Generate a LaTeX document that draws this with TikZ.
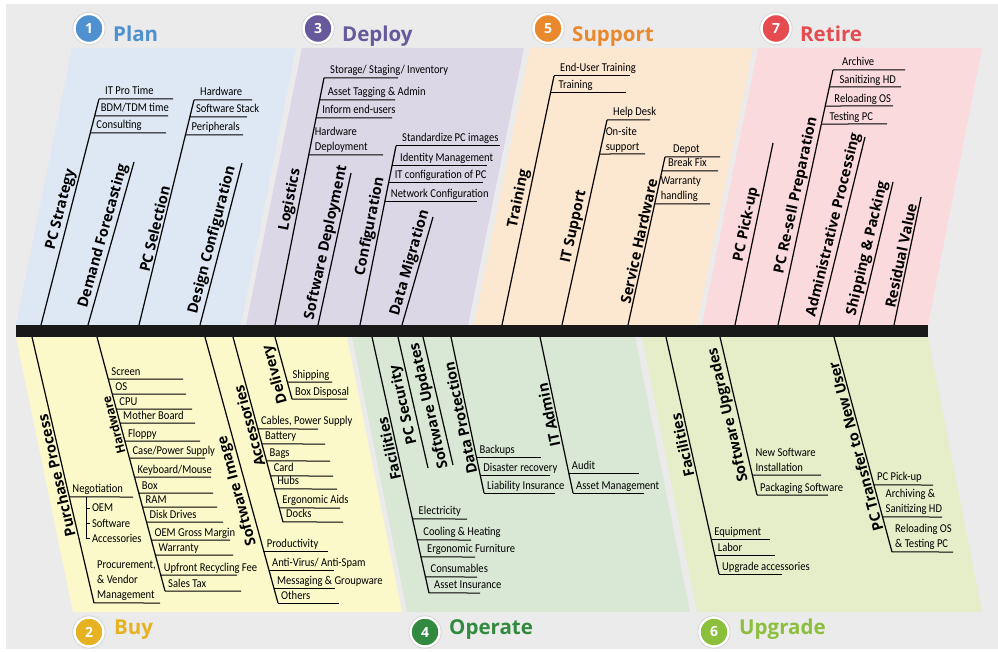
\documentclass[tikz,border=0pt]{standalone}
\usepackage{fontspec}
\setmainfont{Carlito}
\newfontfamily\twigfont[FakeStretch=0.88]{Carlito}
\newfontfamily\bonefont{Open Sans}
\usetikzlibrary{
	calc,
	positioning
}
\definecolor{framebg}{HTML}{EBEBEB}
\definecolor{planbg}{HTML}{DDE8F4}
\definecolor{plantx}{HTML}{4F91D0}
\definecolor{deploybg}{HTML}{DCD7E7}
\definecolor{deploytx}{HTML}{67599B}
\definecolor{supportbg}{HTML}{FCE7D0}
\definecolor{supporttx}{HTML}{E9882C}
\definecolor{retirebg}{HTML}{FADADD}
\definecolor{retiretx}{HTML}{E64B4F}
\definecolor{buybg}{HTML}{FBF8C9}
\definecolor{buytx}{HTML}{E7B221}
\definecolor{operatebg}{HTML}{D9E8D4}
\definecolor{operatetx}{HTML}{318A3F}
\definecolor{upgradebg}{HTML}{E6EEC9}
\definecolor{upgradetx}{HTML}{8CBF3C}
\tikzset{
	bone/.style={line width=1.2pt},
	twig/.style={line width=1pt},
	bone label/.style={font=\bonefont\bfseries\fontsize{14.5}{16}\selectfont,sloped,above,inner sep=1.5pt,pos=#1},
	low label/.style={bone label=#1,allow upside down},
	small label/.style={low label=#1,font=\bonefont\bfseries\fontsize{12}{14}\selectfont},
	twig label/.style={font=\twigfont\fontsize{12}{15}\selectfont,anchor=base west,inner sep=0pt,align=left},
	stage dot/.style={circle,fill=#1,draw=white,line width=2.4pt,minimum size=29pt,inner sep=0pt,text=white,
		font=\bonefont\bfseries\fontsize{14}{14}\selectfont,preaction={draw=black!18,line width=4pt}},
	stage title/.style={font=\bonefont\bfseries\fontsize{20.5}{22}\selectfont,anchor=base west,inner sep=0pt,text=#1}
}
% a bone: [label style]{name}{lower end}{upper end}{label pos}{label}
\newcommand\bone[6][bone label]{%
	\coordinate (#2-a) at (#3);
	\coordinate (#2-b) at (#4);
	\draw[bone] (#2-a) -- node[#1=#5] (#2-l) {#6} (#2-b);
}
% a twig off a bone: [node opts]{bone}{y}{end x}{text}
\newcommand\twigdx{6}
\newcommand\twig[5][]{%
	\path (intersection of #2-a--#2-b and 0,#3--1,#3) coordinate (#2-#3);
	\draw[twig] (#2-#3) -- (#4,#3);
	\node[twig label,#1] (#2-#3-t) at ($(#2-#3)+(\twigdx,-4)$) {#5};
}

\begin{document}
\begin{tikzpicture}[x=1pt,y=-1pt]
	\useasboundingbox (0,0) rectangle (998,652);
	\fill[framebg] (6,4) rectangle (998,649);
	% stage panels
	\fill[planbg] (72,48) -- (296,48) -- (241,325) -- (16,325) -- cycle;
	\fill[deploybg] (302,48) -- (524,48) -- (468,325) -- (246,325) -- cycle;
	\fill[supportbg] (530,48) -- (753,48) -- (697,325) -- (474,325) -- cycle;
	\fill[retirebg] (758,48) -- (982,48) -- (928,325) -- (702,325) -- cycle;
	\fill[buybg] (16,337) -- (347,337) -- (402,612) -- (73,612) -- cycle;
	\fill[operatebg] (352,337) -- (635,337) -- (690,612) -- (407,612) -- cycle;
	\fill[upgradebg] (642,337) -- (928,337) -- (982,612) -- (697,612) -- cycle;
	% backbone
	\fill[black!90] (16,325) rectangle (928,337);

	% stage titles
	\node[stage dot=plantx] (plan-dot) at (89,28.5) {1};
	\node[stage title=plantx] (plan-title) at (113,41.5) {Plan};
	\node[stage dot=deploytx] (deploy-dot) at (318,28.5) {3};
	\node[stage title=deploytx] (deploy-title) at (342,41.5) {Deploy};
	\node[stage dot=supporttx] (support-dot) at (548,28.5) {5};
	\node[stage title=supporttx] (support-title) at (572,41.5) {Support};
	\node[stage dot=retiretx] (retire-dot) at (776,28.5) {7};
	\node[stage title=retiretx] (retire-title) at (800,41.5) {Retire};
	\node[stage dot=buytx] (buy-dot) at (89,632) {2};
	\node[stage title=buytx] (buy-title) at (114,634.5) {Buy};
	\node[stage dot=operatetx] (operate-dot) at (425,632) {4};
	\node[stage title=operatetx] (operate-title) at (449,634.5) {Operate};
	\node[stage dot=upgradetx] (upgrade-dot) at (714,632) {6};
	\node[stage title=upgradetx] (upgrade-title) at (739,634.5) {Upgrade};

	% upper bones
	\bone{strat}{41,325}{99,99}{.5}{PC Strategy}
	\bone{demand}{88,325}{134,162}{.53}{Demand Forecasting}
	\bone{sel}{139,325}{194,100}{.42}{PC Selection}
	\bone{design}{200,325}{242,163}{.51}{Design Configuration}
	\bone{logi}{275,325}{324,78}{.5}{Logistics}
	\bone{swdep}{318,325}{351,173}{.53}{Software Deployment}
	\bone{config}{360,325}{396,146}{.54}{Configuration}
	\bone{datamig}{402,325}{433,217}{.55}{Data Migration}
	\bone{train}{502,325}{554,76}{.5}{Training}
	\bone{itsup}{562,325}{607,120}{.47}{IT Support}
	\bone{service}{628,325}{665,157}{.49}{Service Hardware}
	\bone{pickup}{735,325}{773,143}{.54}{PC Pick-up}
	\bone{resell}{778,325}{833,70}{.5}{PC Re-sell Preparation}
	\bone{admin}{819,325}{865,137}{.52}{Administrative Processing}
	\bone{ship}{859,325}{893,182}{.52}{Shipping \& Packing}
	\bone{resid}{894,325}{921,197}{.53}{Residual Value}

	\twig{strat}{99}{173}{IT Pro Time}
	\twig{strat}{116}{168}{BDM/TDM time}
	\twig{strat}{133}{166}{Consulting}
	\twig{sel}{100}{252}{Hardware}
	\twig{sel}{117}{247}{Software Stack}
	\twig{sel}{135}{243}{Peripherals}
	\twig{logi}{78}{398}{Storage/ Staging/ Inventory}
	\twig[xshift=2pt]{logi}{100}{395}{Asset Tagging \& Admin}
	\twig{logi}{118}{392}{Inform end-users}
	\twig{logi}{155}{383}{Hardware\\Deployment}
	\twig{config}{146}{500}{Standardize PC images}
	\twig[xshift=2pt]{config}{166}{487}{Identity Management}
	\twig{config}{183}{483}{IT configuration of PC}
	\twig{config}{202}{477}{Network Configuration}
	\twig{train}{76}{630}{End-User Training}
	\twig[xshift=2pt]{train}{93}{626}{Training}
	\twig{itsup}{120}{650}{Help Desk}
	\twig{itsup}{154}{645}{On-site\\support}
	\twig[xshift=2pt]{service}{157}{720}{Depot}
	\twig{service}{171}{718}{Break Fix}
	\twig{service}{204}{710}{Warranty\\handling}
	\twig[xshift=3pt]{resell}{70}{905}{Archive}
	\twig[xshift=4pt]{resell}{87}{901}{Sanitizing HD}
	\twig[xshift=3pt]{resell}{106}{893}{Reloading OS}
	\twig[xshift=2pt]{resell}{124}{887}{Testing PC}

	% lower bones
	\renewcommand\twigdx{3}
	\bone[low label]{purch}{94,603}{32,337}{.485}{Purchase Process}
	\bone[small label]{hw}{165,591}{97,337}{.66}{Hardware}
	\bone[low label]{swimg}{278,603}{205,337}{.43}{Software Image}
	\bone[low label]{acc}{283,522}{233,337}{.53}{Accessories}
	\bone[low label]{deliv}{292,399}{275,337}{.44}{Delivery}
	\bone[low label]{ofac}{429,593}{372,337}{.57}{Facilities}
	\bone[low label]{pcsec}{428,468}{398,337}{.5}{PC Security}
	\bone[low label]{swupd}{453,465}{423,337}{.48}{Software Updates}
	\bone[low label]{dprot}{484,493}{451,337}{.49}{Data Protection}
	\bone[low label]{itadm}{573,493}{540,337}{.51}{IT Admin}
	\bone[low label]{ufac}{719,574}{666,337}{.55}{Facilities}
	\bone[low label]{swupg}{757,495}{720,337}{.52}{Software Upgrades}
	\bone[low label]{xfer}{892,552}{834,337}{.5}{PC Transfer to New User}

	\twig{purch}{497}{133}{Negotiation}
	\twig{purch}{603}{160}{Procurement,\\\& Vendor\\Management}
	\coordinate (neg-top) at (86,497);
	\coordinate (neg-bot) at (86,538);
	\draw[twig] (neg-top) -- (neg-bot);
	\foreach \y/\txt [count=\i] in {508/OEM,523/Software,538/Accessories}
		\draw[twig] (86,\y) -- (90,\y) node[twig label,anchor=west,inner sep=1.5pt] (neg-\i) {\txt};

	\twig{hw}{379}{183}{Screen}
	\twig{hw}{394}{186}{OS}
	\twig{hw}{409}{192}{CPU}
	\twig{hw}{423}{195}{Mother Board}
	\twig{hw}{441}{200}{Floppy}
	\twig{hw}{458}{205}{Case/Power Supply}
	\twig{hw}{477}{211}{Keyboard/Mouse}
	\twig{hw}{493}{213}{Box}
	\twig{hw}{507}{217}{RAM}
	\twig{hw}{522}{223}{Disk Drives}
	\twig{hw}{540}{230}{OEM Gross Margin}
	\twig{hw}{555}{233}{Warranty}
	\twig{hw}{575}{237}{Upfront Recycling Fee}
	\twig{hw}{591}{241}{Sales Tax}

	\twig{swimg}{551}{328}{Productivity}
	\twig{swimg}{570}{334}{Anti-Virus/ Anti-Spam}
	\twig{swimg}{588}{335}{Messaging \& Groupware}
	\twig{swimg}{603}{339}{Others}

	\twig{acc}{429}{318}{Cables, Power Supply}
	\twig{acc}{444}{325}{Battery}
	\twig{acc}{461}{330}{Bags}
	\twig{acc}{476}{333}{Card}
	\twig{acc}{489}{337}{Hubs}
	\twig{acc}{508}{340}{Ergonomic Aids}
	\twig{acc}{522}{343}{Docks}

	\twig[xshift=2pt]{deliv}{382}{332}{Shipping}
	\twig{deliv}{399}{347}{Box Disposal}

	\twig[xshift=3pt]{ofac}{519}{467}{Electricity}
	\twig[xshift=3pt]{ofac}{540}{471}{Cooling \& Heating}
	\twig[xshift=3pt]{ofac}{557}{475}{Ergonomic Furniture}
	\twig[xshift=2pt]{ofac}{577}{477}{Consumables}
	\twig[xshift=2pt]{ofac}{593}{480}{Asset Insurance}

	\twig{dprot}{457}{541}{Backups}
	\twig{dprot}{475}{550}{Disaster recovery}
	\twig{dprot}{493}{555}{Liability Insurance}

	\twig{itadm}{473}{639}{Audit}
	\twig{itadm}{493}{644}{Asset Management}

	\twig{ufac}{539}{770}{Equipment}
	\twig{ufac}{555}{775}{Labor}
	\twig{ufac}{574}{782}{Upgrade accessories}

	\twig{swupg}{475}{821}{New Software\\Installation}
	\twig{swupg}{495}{828}{Packaging Software}

	\twig{xfer}{485}{933}{PC Pick-up}
	\twig{xfer}{517}{942}{Archiving \&\\Sanitizing HD}
	\twig{xfer}{552}{953}{Reloading OS\\\& Testing PC}
\end{tikzpicture}
\end{document}
